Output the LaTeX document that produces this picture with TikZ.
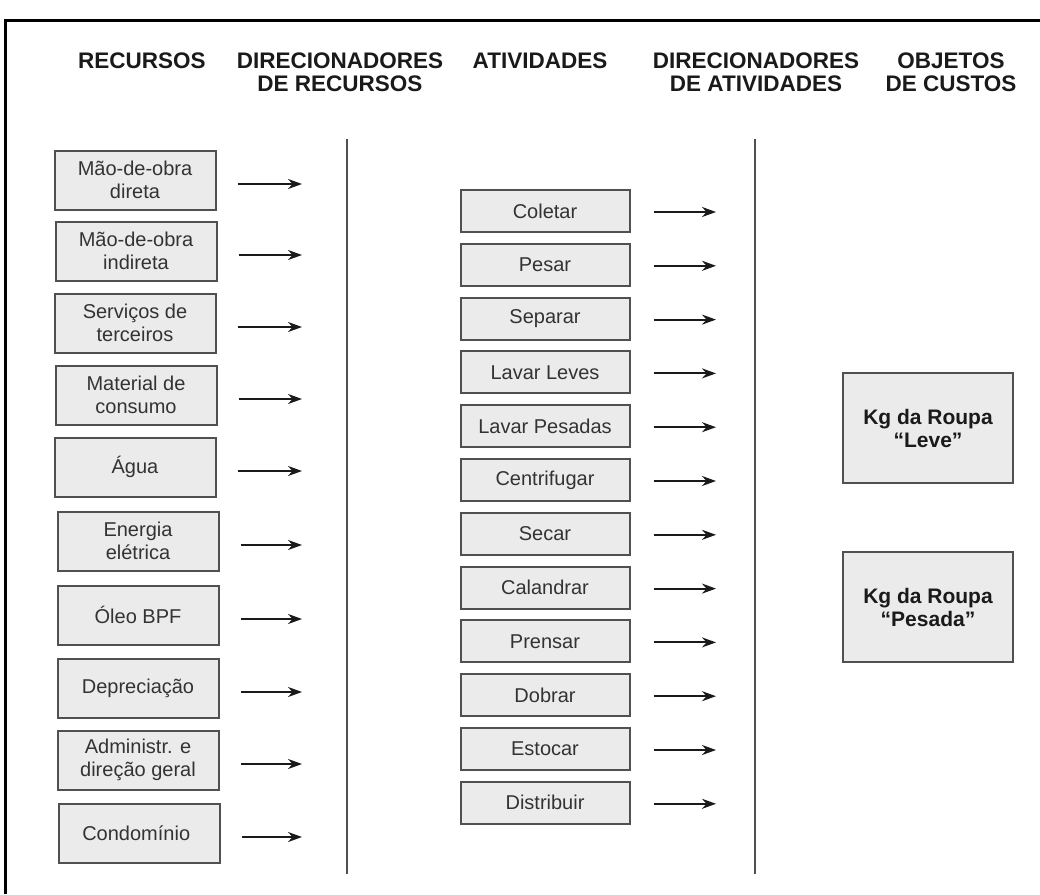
\documentclass[tikz,border=0pt]{standalone}
\usepackage{fontspec}
\setmainfont{Liberation Sans}
\usetikzlibrary{positioning, calc, arrows.meta}
\definecolor{Ink}{HTML}{1A1A1A}
\definecolor{BoxLine}{HTML}{505050}
\definecolor{BoxFill}{HTML}{EBEBEB}
\definecolor{BoxText}{HTML}{333333}
\tikzset{
    header/.style={anchor=north, inner sep=0pt, align=center, text=Ink, font=\fontsize{22.5}{23}\selectfont\bfseries},
    resbox/.style={rectangle, draw=BoxLine, line width=2pt, fill=BoxFill, text=BoxText, align=center, minimum width=161pt, minimum height=59pt, inner sep=0pt, font=\fontsize{20}{23.5}\selectfont},
    actbox/.style={resbox, minimum width=169pt, minimum height=42pt},
    objbox/.style={resbox, minimum width=170pt, minimum height=110pt, text=Ink, font=\fontsize{21}{23}\selectfont\bfseries},
    arrow/.style={-{Stealth[length=14pt, width=10pt]}, line width=2pt, color=Ink},
    divider/.style={line width=2pt, color=BoxLine},
}

\begin{document}
\begin{tikzpicture}[x=1pt, y=-1pt]
        \useasboundingbox (0,0) rectangle (1040,894);
        \draw[line width=3pt, black] (5,894) -- (5,20) -- (1040,20);

        % Column titles
        \node[header] (hres) at (142,53) {RECURSOS};
        \node[header] (hdirres) at (340,53) {DIRECIONADORES\\DE RECURSOS};
        \node[header] (hativ) at (540,53) {ATIVIDADES};
        \node[header] (hdirativ) at (756,53) {DIRECIONADORES\\DE ATIVIDADES};
        \node[header] (hobj) at (951,53) {OBJETOS\\DE CUSTOS};

        % Dividers
        \coordinate (dresA) at (347,139);
        \coordinate (dresB) at (347,874);
        \coordinate (dativA) at (755,139);
        \coordinate (dativB) at (755,874);
        \draw[divider] (dresA) -- (dresB);
        \draw[divider] (dativA) -- (dativB);

        % Resources
        \foreach \i/\x/\y/\txt in {
            1/135/180/{Mão-de-obra\\direta},
            2/136/251/{Mão-de-obra\\indireta},
            3/135/323/{Serviços de\\terceiros},
            4/136/395/{Material de\\consumo},
            5/135/467/Água,
            6/138/541/{Energia\\elétrica},
            7/138/615/Óleo BPF,
            8/138/688/Depreciação,
            9/138/760/{Administr. e\\direção geral},
            10/139/833/Condomínio
        } {
            \node[resbox] (res\i) at (\x,\y) {\txt};
            \coordinate (restip\i) at (302,\y+4);
            \draw[arrow, shorten <=21pt] (res\i.east |- restip\i) -- (restip\i);
        }

        % Activities
        \foreach \txt [count=\i] in {Coletar, Pesar, Separar, Lavar Leves, Lavar Pesadas, Centrifugar, Secar, Calandrar, Prensar, Dobrar, Estocar, Distribuir} {
            \node[actbox] (act\i) at (545,157.2+53.8*\i) {\txt};
            \coordinate (acttip\i) at (716,158.2+53.8*\i);
            \draw[arrow, shorten <=23pt] (act\i.east |- acttip\i) -- (acttip\i);
        }

        % Cost objects
        \node[objbox] (leve) at (928,428) {Kg da Roupa\\“Leve”};
        \node[objbox] (pesada) at (928,607) {Kg da Roupa\\“Pesada”};
    \end{tikzpicture}
\end{document}
